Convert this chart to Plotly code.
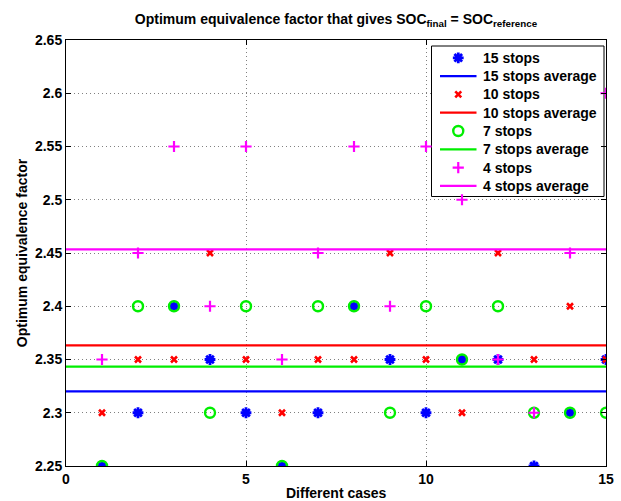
import numpy as np
import plotly.graph_objects as go

cases = list(range(1, 16))
stops15 = [2.25, 2.30, 2.40, 2.35, 2.30, 2.25, 2.30, 2.40, 2.35, 2.30, 2.35, 2.35, 2.25, 2.30, 2.35]
stops10 = [2.30, 2.35, 2.35, 2.45, 2.35, 2.30, 2.35, 2.35, 2.45, 2.35, 2.30, 2.45, 2.35, 2.40, 2.35]
stops7 = [2.25, 2.40, 2.40, 2.30, 2.40, 2.25, 2.40, 2.40, 2.30, 2.40, 2.35, 2.40, 2.30, 2.30, 2.30]
stops4 = [2.35, 2.45, 2.55, 2.40, 2.55, 2.35, 2.45, 2.55, 2.40, 2.55, 2.50, 2.35, 2.30, 2.45, 2.60]
series_names = ["15 stops", "10 stops", "7 stops", "4 stops"]
x_range = [0, 15]
y_range = [2.25, 2.65]
x_ticks = [0, 5, 10, 15]
x_ticklabels = ["0", "5", "10", "15"]
y_ticks = [2.25, 2.3, 2.35, 2.4, 2.45, 2.5, 2.55, 2.6, 2.65]
y_ticklabels = ["2.25", "2.3", "2.35", "2.4", "2.45", "2.5", "2.55", "2.6", "2.65"]

colors = ["#0000ff", "#ff0000", "#00ee00", "#ff00ff"]
markers = [
    dict(symbol="asterisk-open", size=9, line=dict(color=colors[0], width=2.8)),
    dict(symbol="x-thin-open", size=6, line=dict(color=colors[1], width=2.6)),
    dict(symbol="circle-open", size=10, line=dict(color=colors[2], width=2.4)),
    dict(symbol="cross-thin-open", size=8, line=dict(color=colors[3], width=2.2)),
]
values = [stops15, stops10, stops7, stops4]

# figure geometry (pixels)
W, H = 621, 501
ML, MR, MT, MB = 66, 15, 40, 35
font_family = "Liberation Sans"
FS = 14

fig = go.Figure()
for name, vals, color, marker in zip(series_names, values, colors, markers):
    fig.add_trace(go.Scatter(x=cases, y=vals, mode="markers", name=name,
                             marker=dict(marker, color=color), showlegend=False))
    avg = float(np.mean(vals))
    fig.add_trace(go.Scatter(x=x_range, y=[avg, avg], mode="lines", name=name + " average",
                             line=dict(color=color, width=2.2), showlegend=False))

# ---- custom legend drawn in a pixel-space overlay axis ----
LEG_X0, LEG_X1, LEG_Y0, LEG_Y1 = 431.5, 604, 46, 196.5
ROW0, ROW_STEP = 57.8, 18.3
SYM_X0, SYM_X1, TEXT_X = 440, 476.5, 480.5
px_per_x = (W - ML - MR) / (x_range[1] - x_range[0])
px_per_y = (H - MT - MB) / (y_range[1] - y_range[0])


def px2x(px):
    return x_range[0] + (px - ML) / px_per_x


def px2y(py):
    return y_range[1] - (py - MT) / px_per_y


fig.add_shape(type="rect", xref="x", yref="y",
              x0=px2x(LEG_X0), x1=px2x(LEG_X1), y0=px2y(LEG_Y0), y1=px2y(LEG_Y1),
              fillcolor="white", line=dict(color="black", width=1), layer="between")

row = 0
for name, color, marker in zip(series_names, colors, markers):
    for kind in ("marker", "line"):
        yc = ROW0 + row * ROW_STEP
        if kind == "marker":
            fig.add_trace(go.Scatter(x=[(SYM_X0 + SYM_X1) / 2], y=[yc], xaxis="x2", yaxis="y2",
                                     mode="markers", marker=dict(marker, color=color),
                                     showlegend=False, hoverinfo="skip"))
            label = name
        else:
            fig.add_trace(go.Scatter(x=[SYM_X0, SYM_X1], y=[yc, yc], xaxis="x2", yaxis="y2",
                                     mode="lines", line=dict(color=color, width=2.2),
                                     showlegend=False, hoverinfo="skip"))
            label = name + " average"
        fig.add_annotation(x=TEXT_X, y=yc, xref="x2", yref="y2", text="<b>" + label + "</b>",
                           showarrow=False, xanchor="left", yanchor="middle",
                           font=dict(family=font_family, size=FS, color="black"))
        row += 1

# x-axis title placed as annotation below the tick labels
fig.add_annotation(x=0.5, y=-(493 - (H - MB)) / (H - MT - MB), xref="paper", yref="paper",
                   text="<b>Different cases</b>", showarrow=False,
                   xanchor="center", yanchor="middle",
                   font=dict(family=font_family, size=FS, color="black"))

axis_common = dict(
    showline=True, linecolor="black", linewidth=1, mirror="ticks",
    ticks="inside", ticklen=5, tickcolor="black",
    showgrid=True, gridcolor="#808080", gridwidth=1, griddash="1px,3px",
    zeroline=False, automargin=False,
    tickfont=dict(family=font_family, size=FS, color="black"),
)

fig.update_layout(
    width=W, height=H,
    margin=dict(l=ML, r=MR, t=MT, b=MB, autoexpand=False),
    paper_bgcolor="white", plot_bgcolor="white",
    font=dict(family=font_family, color="black"),
    title=dict(text="<b>Optimum equivalence factor that gives SOC<sub>final</sub> = SOC<sub>reference</sub></b>",
               xref="paper", x=0.5, xanchor="center", y=0.972, yanchor="top",
               font=dict(family=font_family, size=FS, color="black")),
    xaxis=dict(axis_common, range=x_range, tickvals=x_ticks,
               ticktext=["<b>" + t + "</b>" for t in x_ticklabels]),
    yaxis=dict(axis_common, range=y_range, tickvals=y_ticks,
               ticktext=["<b>" + t + "</b>" for t in y_ticklabels],
               title=dict(text="<b>Optimum equivalence factor</b>", standoff=4,
                          font=dict(family=font_family, size=FS, color="black"))),
    xaxis2=dict(overlaying="x", anchor="y2", range=[ML, W - MR], visible=False, fixedrange=True),
    yaxis2=dict(overlaying="y", anchor="x2", range=[H - MB, MT], visible=False, fixedrange=True),
    showlegend=False,
)

fig.write_html("out.html", config={"displayModeBar": False},
               post_script="document.body.style.margin='0px';document.body.style.overflow='hidden';")
